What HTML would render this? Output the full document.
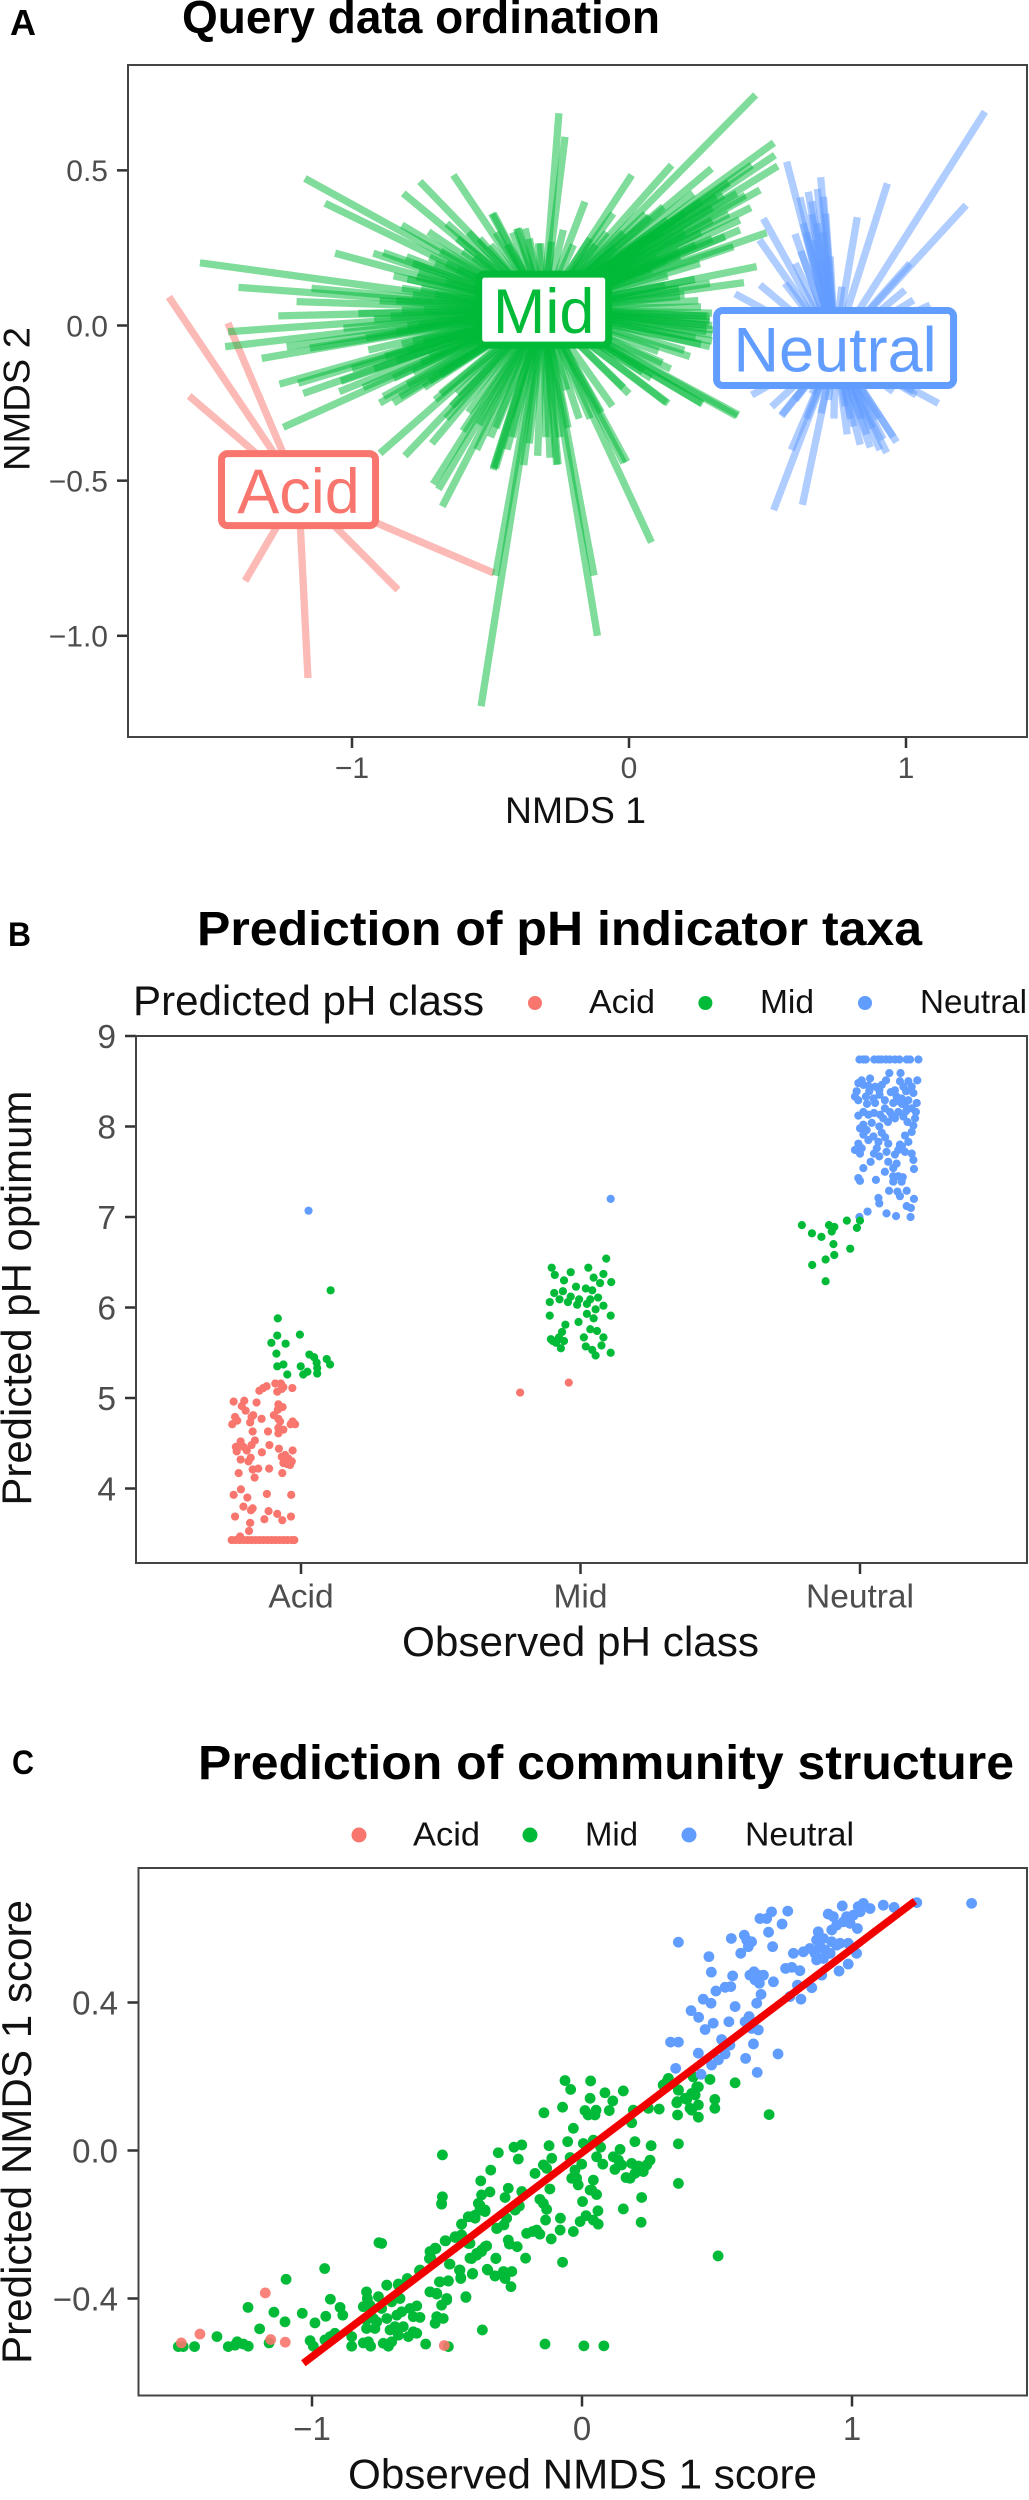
<!DOCTYPE html>
<html lang="en">
<head>
<meta charset="utf-8">
<title>pH class prediction figure</title>
<style>
html,body{margin:0;padding:0;background:#fff;}
svg{display:block;font-family:"Liberation Sans",Arial,sans-serif;}
.title{font-weight:700;fill:#000;}
.letter{font-weight:700;fill:#000;font-size:34px;}
.axis-title{fill:#111;font-size:42px;}
.legend-text{fill:#111;font-size:33.5px;}
</style>
</head>
<body>
<svg id="figure" xmlns="http://www.w3.org/2000/svg" width="1029" height="2500" viewBox="0 0 1029 2500">
  <rect x="0" y="0" width="1029" height="2500" fill="#fff"/>

  <text class="letter" x="10" y="35" style="font-size:36px" textLength="26" lengthAdjust="spacingAndGlyphs">A</text>
  <text class="title" x="182" y="33" font-size="46" textLength="478" lengthAdjust="spacingAndGlyphs">Query data ordination</text>
  <g id="panelA"></g>
  <rect x="128" y="65" width="899" height="672" fill="none" stroke="#444" stroke-width="2"/>
  <text class="axis-title" x="505" y="823" font-size="36" style="font-size:37px" textLength="141" lengthAdjust="spacingAndGlyphs">NMDS 1</text>
  <text class="axis-title" transform="translate(29.5,471) rotate(-90)" x="0" y="0" style="font-size:37px" textLength="144" lengthAdjust="spacingAndGlyphs">NMDS 2</text>

  <text class="letter" x="8" y="946" textLength="23" lengthAdjust="spacingAndGlyphs">B</text>
  <text class="title" x="197" y="945" font-size="48" textLength="725" lengthAdjust="spacingAndGlyphs">Prediction of pH indicator taxa</text>
  <text class="axis-title" x="133" y="1015" textLength="351" lengthAdjust="spacingAndGlyphs">Predicted pH class</text>
  <g>
    <circle cx="535" cy="1003" r="7" fill="#F8766D"/>
    <text class="legend-text" x="589" y="1013" textLength="66" lengthAdjust="spacingAndGlyphs">Acid</text>
    <circle cx="705.4" cy="1003" r="7" fill="#00BA38"/>
    <text class="legend-text" x="760" y="1013" textLength="54" lengthAdjust="spacingAndGlyphs">Mid</text>
    <circle cx="865" cy="1003" r="7" fill="#619CFF"/>
    <text class="legend-text" x="920" y="1013" textLength="107" lengthAdjust="spacingAndGlyphs">Neutral</text>
  </g>
  <g id="panelB"></g>
  <rect x="136" y="1036" width="891" height="527" fill="none" stroke="#444" stroke-width="2"/>
  <text class="axis-title" x="402" y="1656" textLength="357" lengthAdjust="spacingAndGlyphs">Observed pH class</text>
  <text class="axis-title" transform="translate(31,1505.6) rotate(-90)" x="0" y="0" textLength="415" lengthAdjust="spacingAndGlyphs">Predicted pH optimum</text>

  <text class="letter" x="12" y="1774" textLength="22" lengthAdjust="spacingAndGlyphs">C</text>
  <text class="title" x="198" y="1779" font-size="48" textLength="816" lengthAdjust="spacingAndGlyphs">Prediction of community structure</text>
  <g>
    <circle cx="359" cy="1835" r="7.5" fill="#F8766D"/>
    <text class="legend-text" x="413" y="1845.4" textLength="67" lengthAdjust="spacingAndGlyphs">Acid</text>
    <circle cx="530" cy="1835" r="7.5" fill="#00BA38"/>
    <text class="legend-text" x="585" y="1845.4" textLength="53" lengthAdjust="spacingAndGlyphs">Mid</text>
    <circle cx="689" cy="1835" r="7.5" fill="#619CFF"/>
    <text class="legend-text" x="745" y="1845.4" textLength="109" lengthAdjust="spacingAndGlyphs">Neutral</text>
  </g>
  <g id="panelC"></g>
  <rect x="138.5" y="1868" width="888.5" height="527.5" fill="none" stroke="#444" stroke-width="2"/>
  <text class="axis-title" x="348" y="2488.7" textLength="469" lengthAdjust="spacingAndGlyphs">Observed NMDS 1 score</text>
  <text class="axis-title" transform="translate(31,2364) rotate(-90)" x="0" y="0" textLength="464" lengthAdjust="spacingAndGlyphs">Predicted NMDS 1 score</text>
</svg>

<script>
/* ---------- Panel A data (NMDS coordinates) ---------- */
const ordXTicks = [-1, 0, 1];
const ordXTickLabels = ['\u22121', '0', '1'];
const ordYTicks = [0.5, 0, -0.5, -1];
const ordYTickLabels = ['0.5', '0.0', '\u22120.5', '\u22121.0'];
const ordAcidCentre = [-1.193, -0.529];
const ordMidCentre = [-0.308, 0.051];
const ordNeutralCentre = [0.744, -0.0725];
const ordAcidEnds = [[-1.661,0.092],[-1.448,0.008],[-1.588,-0.227],[-1.386,-0.823],[-1.159,-1.136],[-0.834,-0.852],[-0.487,-0.798]];
const ordMidEnds = [[-1.170,0.474],[-1.097,0.394],[-1.549,0.202],[-1.061,0.233],[-1.410,0.123],[-0.923,0.233],[-0.887,0.235],[-0.803,0.222],[-1.200,0.077],[-1.266,0.031],[-1.447,-0.020],[-1.458,-0.068],[-1.326,-0.106],[-1.236,-0.068],[-1.262,-0.189],[-1.194,-0.186],[-1.176,-0.219],[-1.248,-0.328],[-1.046,-0.213],[-0.887,-0.229],[-0.827,-0.229],[-0.941,-0.079],[-0.815,0.426],[-0.755,0.464],[-0.634,0.485],[-0.496,0.361],[-0.820,0.324],[-0.724,0.302],[-0.658,0.329],[-1.146,0.120],[-1.031,-0.009],[-0.977,0.039],[-1.152,-0.073],[-0.406,0.313],[-0.375,0.313],[-0.327,0.265],[-0.767,0.157],[-0.899,-0.412],[-0.809,-0.420],[-0.712,-0.380],[-0.490,-0.465],
[-0.707,-0.511],[-0.688,-0.528],[-0.674,-0.583],[-0.482,-0.460],[-0.534,-1.227],[-0.482,-0.806],[-0.256,-0.448],[-0.285,-0.426],[-0.126,-0.806],[-0.114,-1.000],[-0.019,-0.443],[0.081,-0.699],[0.135,-0.249],[0.266,-0.253],[0.389,-0.292],
[-0.253,0.684],[-0.231,0.608],[-0.159,0.399],[0.010,0.485],[0.457,0.743],[0.154,0.517],[0.298,0.506],[0.523,0.589],[0.527,0.549],[0.537,0.514],[0.473,0.437],[0.443,0.517],[0.401,0.308],[0.497,0.299],[0.461,0.190],[0.415,0.138],[0.256,0.200],[0.238,0.149],[0.184,0.093],[0.076,0.351],[0.124,0.383],[0.232,0.426],[0.316,0.415],[0.389,0.426],[-0.237,0.308],[-0.400,0.313],[-0.319,0.265],[-0.490,0.361],[-0.057,0.361],[0.292,0.018],[0.304,-0.014],[0.292,-0.068],[0.106,-0.084],[0.142,-0.251],[0.262,-0.251],[0.395,-0.288],[-0.008,-0.439],[-0.225,-0.208],[-0.261,-0.449],[-0.490,-0.460],[0.377,0.254],[0.347,0.286],[0.184,0.222],[0.292,0.136],[0.136,0.211],
[-0.80,0.15],[-0.78,0.10],[-0.82,0.05],[-0.80,0.0],[-0.78,-0.05],[-0.80,-0.08],[-0.75,-0.12],[-0.72,-0.18],[-0.70,0.20],[-0.68,0.24],[-0.62,0.28],[-0.58,0.30],[-0.75,0.12],[-0.90,0.08],[-0.92,0.02],[-0.95,-0.04],[-0.88,-0.10],[-0.92,-0.14],[-0.85,-0.17],[-0.80,-0.19],[-0.70,-0.24],[-0.66,-0.30],[-0.60,-0.34],[-0.55,-0.40],[-0.50,-0.36],[-0.44,-0.40],[-0.38,-0.45],[-0.33,-0.42],[-0.25,-0.36],[-0.18,-0.30],[-0.10,-0.28],[-0.02,-0.20],[0.05,-0.15],[0.12,-0.12],[0.20,-0.08],[0.24,-0.04],[0.28,0.0],[0.30,0.04],[0.25,0.08],[0.18,0.12],[0.14,0.16],[0.10,0.22],[0.04,0.26],[-0.02,0.30],[-0.08,0.30],[-0.14,0.28],[-0.44,0.26],[-0.50,0.26],[0.06,0.36],[0.14,0.34],[0.20,0.30],[0.26,0.30],[0.30,0.28],[0.36,0.36],[0.42,0.42],[0.36,0.46],[0.30,0.38],[-0.78,0.20],[-0.85,0.16],[-1.0,-0.14],[-1.04,-0.18],[-0.96,-0.20],[-0.90,-0.25],[-0.85,-0.25],[0.29,0.03],[0.30,0.0],[0.30,-0.03],[0.30,-0.05],[0.29,0.01],
[-0.82,0.12],[-0.84,0.08],[-0.86,0.03],[-0.84,-0.02],[-0.82,-0.06],[-0.84,-0.11],[-0.78,-0.15],[-0.74,-0.20],[-0.68,-0.22],[-0.64,-0.26],[-0.76,0.17],[-0.72,0.22],[-0.66,0.20],[-0.60,0.24],[-0.54,0.28],[-0.48,0.30],[-0.42,0.30],[-0.36,0.28],[-0.28,0.27],[-0.20,0.26],[-0.12,0.26],[-0.05,0.25],[0.02,0.22],[0.08,0.18],[0.13,0.13],[0.20,0.10],[0.26,0.06],[0.28,0.03],[0.28,-0.02],[0.26,-0.06],[0.22,-0.10],[0.15,-0.14],[0.08,-0.17],[0.0,-0.22],[-0.06,-0.26],[-0.14,-0.30],[-0.22,-0.33],[-0.30,-0.36],[-0.36,-0.38],[-0.42,-0.36],[-0.48,-0.33],[-0.54,-0.32],[-0.58,-0.28],[-0.62,-0.22],[-0.68,-0.16],[-0.72,-0.10],[-0.74,-0.05],[-0.76,0.0],[-0.74,0.05],[-0.70,0.10],[-0.66,0.14],[-0.62,0.18],[-0.56,0.22],[0.20,0.36],[0.26,0.40],[0.34,0.42],[0.30,0.34],[0.24,0.26],[0.18,0.24],[0.40,0.34],[0.44,0.38],[0.12,0.30],[0.06,0.28]];
const ordNeutralEnds = [[0.569,0.528],[0.617,0.413],[0.647,0.431],[0.692,0.478],[0.659,0.359],[0.485,0.345],[0.471,0.276],[0.599,0.295],[0.824,0.349],[0.933,0.458],[1.285,0.689],[1.217,0.388],[0.563,0.136],[0.768,0.125],[0.473,0.131],[0.383,0.102],[0.996,0.114],[1.027,0.082],[1.087,0.066],[1.014,0.200],[0.629,0.329],[0.678,0.329],[0.702,0.415],[0.665,0.275],[0.726,0.222],
[0.443,-0.224],[0.515,-0.262],[0.551,-0.288],[1.117,-0.251],[1.027,-0.213],[0.954,-0.213],[0.522,-0.595],[0.626,-0.578],[0.586,-0.401],[0.641,-0.300],[0.550,-0.292],[0.966,-0.376],[0.930,-0.410],[0.871,-0.393],[0.906,-0.401],[0.788,-0.351],[0.835,-0.384],[0.954,-0.359],[1.037,-0.224],[0.811,-0.325],[0.859,-0.351],[0.918,-0.367],[0.740,-0.300],[0.693,-0.283],
[0.80,-0.30],[0.84,-0.30],[0.88,-0.33],[0.78,-0.26],[0.72,-0.24],[0.66,-0.22],[0.60,-0.24],[0.90,-0.30],[0.70,0.30],[0.71,0.36],[0.66,0.40],[0.68,0.44],[0.64,0.30],[0.62,0.24],[0.60,0.20]];

/* ---------- Panel B data: [jitter around observed class, predicted pH] ---------- */
const phCategories = ['Acid', 'Mid', 'Neutral'];
const phYTicks = [9, 8, 7, 6, 5, 4];
const phAcidObsAcid = [[-0.248,3.43],[-0.234,3.43],[-0.219,3.43],[-0.205,3.43],[-0.191,3.43],[-0.177,3.43],[-0.162,3.43],[-0.148,3.43],[-0.134,3.43],[-0.119,3.43],[-0.105,3.43],[-0.091,3.43],[-0.076,3.43],[-0.062,3.43],[-0.048,3.43],[-0.033,3.43],[-0.024,3.43],
[-0.218,3.47],[-0.186,3.53],[-0.182,3.62],[-0.236,3.69],[-0.131,3.66],[-0.116,3.75],[-0.085,3.72],[-0.067,3.65],[-0.036,3.69],[-0.206,3.80],[-0.173,3.78],[-0.179,3.76],[-0.241,3.93],[-0.215,3.99],[-0.192,3.90],[-0.122,3.94],[-0.035,3.93],[-0.223,4.17],[-0.166,4.12],[-0.173,4.21],[-0.153,4.22],[-0.114,4.22],[-0.067,4.17],
[-0.216,4.32],[-0.188,4.30],[-0.180,4.34],[-0.140,4.40],[-0.230,4.41],[-0.233,4.46],[-0.216,4.52],[-0.206,4.46],[-0.194,4.42],[-0.177,4.48],[-0.165,4.53],[-0.113,4.48],[-0.079,4.44],[-0.030,4.42],[-0.069,4.35],[-0.057,4.37],[-0.045,4.33],[-0.033,4.30],[-0.063,4.28],[-0.049,4.27],[-0.039,4.26],
[-0.173,4.63],[-0.118,4.63],[-0.081,4.61],[-0.081,4.67],[-0.063,4.65],[-0.246,4.71],[-0.236,4.79],[-0.228,4.75],[-0.182,4.73],[-0.177,4.79],[-0.171,4.81],[-0.141,4.77],[-0.097,4.81],[-0.081,4.77],[-0.075,4.74],[-0.030,4.74],[-0.021,4.71],[-0.037,4.71],
[-0.241,4.96],[-0.203,4.97],[-0.212,4.91],[-0.198,4.86],[-0.159,4.95],[-0.081,4.93],[-0.066,4.90],[-0.083,4.87],[-0.149,5.08],[-0.135,5.11],[-0.123,5.13],[-0.092,5.16],[-0.072,5.16],[-0.063,5.12],[-0.085,5.07],[-0.069,5.10],[-0.031,5.11]];
const phMidObsAcid = [[-0.083,5.88],[-0.085,5.69],[-0.106,5.61],[-0.055,5.60],[-0.004,5.70],[-0.088,5.49],[-0.085,5.35],[-0.063,5.37],[-0.049,5.26],[-0.001,5.35],[0.030,5.48],[0.047,5.45],[0.056,5.39],[0.058,5.33],[0.058,5.27],[0.023,5.29],[0.008,5.26],[0.092,5.43],[0.104,5.37],[0.106,6.19]];
const phNeutralObsAcid = [[0.027,7.07]];
const phAcidObsMid = [[-0.216,5.06],[-0.042,5.17]];
const phMidObsMid = [[0.092,6.54],[-0.103,6.44],[-0.035,6.39],[0.028,6.44],[-0.092,6.36],[0.082,6.37],[-0.059,6.30],[0.047,6.33],[0.110,6.28],[0.070,6.27],[-0.016,6.23],[0.019,6.21],[0.042,6.19],[-0.094,6.16],[-0.063,6.18],[-0.035,6.12],[-0.005,6.09],[0.035,6.09],[0.063,6.11],[-0.110,6.06],[-0.075,6.09],[-0.045,6.06],[-0.012,6.03],[0.023,6.04],[0.082,6.02],[0.054,5.98],[-0.110,5.91],[0.023,5.93],[0.108,5.91],[0.047,5.88],[-0.007,5.84],[-0.054,5.81],[0.035,5.76],[0.059,5.74],[-0.066,5.73],[-0.077,5.67],[-0.099,5.63],[-0.059,5.63],[0.082,5.67],[0.012,5.67],[-0.070,5.55],[0.019,5.57],[0.042,5.53],[0.075,5.58],[0.054,5.47],[0.108,5.50],[-0.087,5.61],[-0.106,5.65]];
const phNeutralObsMid = [[0.108,7.20]];
const phMidObsNeutral = [[-0.208,6.91],[-0.172,6.82],[-0.138,6.78],[-0.111,6.91],[-0.092,6.89],[-0.101,6.84],[-0.047,6.96],[0,6.96],[-0.011,6.88],[-0.095,6.70],[-0.035,6.65],[-0.092,6.58],[-0.123,6.53],[-0.171,6.47],[-0.123,6.29]];
const phNeutralObsNeutral = [[-0.002,8.74],[0.012,8.74],[0.021,8.74],[0.051,8.74],[0.066,8.74],[0.077,8.74],[0.093,8.74],[0.107,8.74],[0.125,8.74],[0.141,8.74],[0.167,8.74],[0.179,8.74],[0.209,8.74],
[0.105,8.59],[0.145,8.59],[0.036,8.53],[0.006,8.51],[-0.006,8.48],[0.093,8.51],[0.078,8.46],[0.143,8.50],[0.173,8.50],[0.205,8.51],[0.012,8.46],[0.054,8.44],[0.155,8.44],[0.185,8.44],[-0.012,8.39],[0.033,8.39],[0.069,8.40],[0.125,8.40],[0.165,8.39],[0.191,8.37],[-0.018,8.33],[0.021,8.33],[0.048,8.31],[0.089,8.29],[0.131,8.33],[0.149,8.31],[0.173,8.29],[0.203,8.26],[0.054,8.26],[-0.006,8.29],[0.119,8.26],[0.161,8.24],[0.185,8.20],[0.089,8.20],[0.072,8.13],[0.107,8.16],[0.137,8.16],[0.012,8.16],[-0.006,8.12],[0.030,8.13],[0.200,8.16],[0.125,8.09],[0.155,8.11],[0.197,8.09],[0.083,8.09],[0.012,8.02],[0,7.98],[0.042,8.04],[0.069,8.00],[0.191,8.01],[0.078,7.93],[0.024,7.96],[0.012,7.91],[0.048,7.89],[0.185,7.94],[0.161,7.90],[-0.006,7.81],[0.066,7.83],[0.101,7.81],[0.143,7.80],[0.173,7.83],[-0.018,7.74],[0.006,7.76],[0.060,7.76],[0.095,7.72],[0.137,7.74],[0.161,7.72],[0.185,7.70],[0,7.70],[0.069,7.67],[0.125,7.69],[0.191,7.63],[0.101,7.61],[0.131,7.59],[0.038,7.61],[0.012,7.54],[0.119,7.54],[0.193,7.53],[0.089,7.50],[-0.006,7.43],[0,7.40],[0.057,7.41],[0.119,7.45],[0.137,7.45],[0.153,7.44],[0.119,7.39],[0.149,7.39],[0.104,7.29],[0.134,7.28],[0.167,7.29],[0.143,7.23],[0.066,7.21],[0.069,7.15],[0.193,7.20],[0.167,7.12],[0.182,7.10],[0.027,7.06],[0.095,7.04],[0.129,7.01],[0.181,7.00],[-0.002,7.00],
[0.03,8.45],[0.11,8.38],[0.15,8.25],[0.10,8.05],[0.05,8.15],[0.17,8.05],[0.03,7.85],[0.09,7.88],[0.15,7.78],[0.05,7.70],[0.115,8.12],[0.13,8.28],[0.07,8.35],[0.025,8.25],[0.165,8.17]];

/* ---------- Panel C data: [observed, predicted] ---------- */
const commXTicks = [-1, 0, 1];
const commXTickLabels = ['\u22121', '0', '1'];
const commYTicks = [0.4, 0, -0.4];
const commYTickLabels = ['0.4', '0.0', '\u22120.4'];
const commFitStart = [-1.032, -0.575];
const commFitEnd = [1.233, 0.674];
const commMidLow = [[-1.495,-0.530],[-1.477,-0.530],[-1.435,-0.530],[-1.352,-0.503],[-1.310,-0.530],[-1.285,-0.526],[-1.277,-0.517],[-1.254,-0.523],[-1.236,-0.529],[-1.237,-0.424],[-1.194,-0.482],[-1.159,-0.520],[-1.141,-0.437],[-1.100,-0.463],[-1.096,-0.348],[-1.036,-0.440],[-1.007,-0.514],[-0.995,-0.529],[-0.989,-0.466],[-0.949,-0.448],[-0.953,-0.319],[-0.932,-0.402],[-0.896,-0.424],[-0.886,-0.445],[-0.952,-0.512],[-0.933,-0.503],[-0.915,-0.494],[-0.853,-0.503],[-0.853,-0.529],[-0.810,-0.520],[-0.791,-0.517],[-0.783,-0.529],[-0.736,-0.521],[-0.717,-0.529],[-0.705,-0.517],[-0.798,-0.382],[-0.795,-0.400],[-0.810,-0.422],[-0.754,-0.395],[-0.723,-0.364],[-0.680,-0.361],[-0.647,-0.348],[-0.602,-0.325],[-0.674,-0.400],[-0.705,-0.409],[-0.785,-0.418],[-0.742,-0.427],[-0.798,-0.458],[-0.773,-0.454],[-0.723,-0.454],[-0.686,-0.445],[-0.668,-0.436],[-0.637,-0.427],[-0.612,-0.420],[-0.625,-0.449],[-0.600,-0.451],[-0.798,-0.481],[-0.767,-0.481],[-0.760,-0.463],[-0.693,-0.476],[-0.662,-0.476],[-0.711,-0.485],[-0.680,-0.499],[-0.643,-0.503],[-0.612,-0.494],[-0.625,-0.490],[-0.579,-0.523],[-0.563,-0.382],[-0.538,-0.386],[-0.520,-0.418],[-0.501,-0.404],[-0.538,-0.449],[-0.514,-0.454],[-0.544,-0.467],[-0.528,-0.355],[-0.495,-0.353],[-0.452,-0.323],[-0.449,-0.346],[-0.430,-0.397],[-0.406,-0.334],[-0.369,-0.485],[-0.489,-0.307],[-0.565,-0.292],[-0.560,-0.274],[-0.541,-0.265],[-0.507,-0.244],[-0.470,-0.235],[-0.452,-0.231],[-0.446,-0.199],[-0.415,-0.251],[-0.409,-0.292],[-0.390,-0.283],[-0.372,-0.269],[-0.353,-0.258],[-0.349,-0.323],[-0.322,-0.339],[-0.319,-0.292],[-0.316,-0.211],[-0.421,-0.179],[-0.396,-0.175],[-0.378,-0.148],[-0.359,-0.161],[-0.520,-0.145],[-0.752,-0.249],[-0.495,-0.530],[-0.137,-0.523],[0.007,-0.528],[0.081,-0.528],[0.504,-0.285]];
const commMidCentre = [[-0.742,-0.251],[-0.723,-0.364],[-0.680,-0.364],[-0.647,-0.346],[-0.600,-0.323],[-0.563,-0.273],[-0.544,-0.264],[-0.560,-0.291],[-0.505,-0.244],[-0.470,-0.233],[-0.446,-0.228],[-0.421,-0.251],[-0.415,-0.291],[-0.390,-0.278],[-0.359,-0.260],[-0.372,-0.273],[-0.491,-0.307],[-0.454,-0.323],[-0.449,-0.343],[-0.405,-0.332],[-0.526,-0.355],[-0.495,-0.352],[-0.563,-0.382],[-0.538,-0.388],[-0.501,-0.400],[-0.430,-0.395],[-0.351,-0.321],[-0.319,-0.291],[-0.322,-0.339],[-0.291,-0.327],[-0.260,-0.327],[-0.285,-0.346],[-0.263,-0.368],[-0.209,-0.291],[-0.273,-0.242],[-0.269,-0.253],[-0.240,-0.260],[-0.314,-0.210],[-0.289,-0.201],[-0.279,-0.183],[-0.446,-0.199],[-0.415,-0.179],[-0.396,-0.183],[-0.378,-0.161],[-0.359,-0.165],[-0.384,-0.143],[-0.372,-0.120],[-0.341,-0.112],[-0.375,-0.082],[-0.338,-0.053],[-0.310,-0.006],[-0.517,-0.012],[-0.517,-0.125],[-0.520,-0.143],[-0.273,-0.102],[-0.285,-0.127],[-0.223,-0.111],[-0.248,-0.161],[-0.232,-0.150],[-0.236,-0.023],[-0.252,0.009],[-0.223,0.015],[-0.174,-0.062],[-0.143,-0.039],[-0.112,-0.021],[-0.131,-0.048],[-0.122,0.013],[-0.119,-0.104],[-0.156,-0.132],[-0.143,-0.143],[-0.131,-0.159],[-0.135,-0.188],[-0.183,-0.219],[-0.168,-0.215],[-0.156,-0.226],[-0.205,-0.224],[-0.114,-0.239],[-0.081,-0.215],[-0.080,-0.183],[-0.072,-0.302],[-0.032,-0.219],[-0.007,-0.192],[0.015,-0.176],[0.042,-0.188],[0.059,-0.163],[0.060,-0.199],[0.002,-0.138],[0.036,-0.107],[0.054,-0.119],[0.042,-0.080],[0.030,-0.107],[-0.038,-0.075],[-0.014,-0.093],[-0.020,-0.075],[-0.026,-0.053],[-0.001,-0.037],[-0.044,-0.019],[-0.053,0.024],[0.005,0.019],[0.042,0.028],[0.069,0.009],[0.054,-0.017],[0.077,-0.037],[-0.032,0.060],[-0.141,0.102],[-0.072,0.117],[-0.063,0.189],[-0.042,0.165],[0.032,0.188],[0.030,0.141],[0.085,0.156],[0.114,0.134],[0.011,0.108],[0.023,0.096],[0.052,0.109],[0.048,0.096],[0.101,0.108],[0.153,0.161],[0.184,0.075],[0.196,0.024],[0.256,0.013],[0.252,-0.026],[0.240,-0.039],[0.227,-0.057],[0.209,-0.042],[0.184,-0.035],[0.196,-0.062],[0.178,-0.075],[0.163,-0.073],[0.141,0.003],[0.116,-0.017],[0.135,-0.026],[0.122,-0.051],[0.147,-0.039],[0.221,-0.127],[0.153,-0.158],[0.219,-0.194]];
const commMidHigh = [[0.190,0.109],[0.246,0.114],[0.286,0.112],[0.357,0.018],[0.357,-0.089],[0.351,0.129],[0.354,0.096],[0.406,0.109],[0.431,0.090],[0.388,0.138],[0.419,0.150],[0.425,0.172],[0.357,0.164],[0.314,0.186],[0.301,0.177],[0.567,0.183],[0.492,0.138],[0.431,0.172],[0.406,0.154],[0.382,0.141],[0.353,0.132],[0.474,0.192],[0.412,0.199],[0.320,0.195],[0.301,0.177],[0.357,0.163],[0.431,0.123],[0.492,0.114],[0.400,0.114],[0.693,0.097]];
const commNeutral = [[0.357,0.563],[0.470,0.524],[0.479,0.482],[0.558,0.472],[0.553,0.573],[0.601,0.582],[0.610,0.569],[0.628,0.564],[0.616,0.551],[0.588,0.533],[0.691,0.590],[0.706,0.551],[0.659,0.627],[0.684,0.627],[0.702,0.645],[0.762,0.647],[0.741,0.612],[0.622,0.474],[0.637,0.483],[0.653,0.474],[0.672,0.474],[0.641,0.461],[0.657,0.452],[0.709,0.456],[0.496,0.431],[0.530,0.441],[0.551,0.443],[0.449,0.409],[0.478,0.398],[0.663,0.422],[0.647,0.398],[0.567,0.389],[0.404,0.378],[0.432,0.360],[0.456,0.327],[0.486,0.344],[0.544,0.348],[0.619,0.362],[0.604,0.348],[0.628,0.330],[0.653,0.326],[0.635,0.288],[0.606,0.249],[0.726,0.261],[0.649,0.211],[0.328,0.293],[0.357,0.293],[0.517,0.300],[0.548,0.285],[0.431,0.263],[0.530,0.261],[0.505,0.245],[0.480,0.231],[0.347,0.222],[0.441,0.206],[0.783,0.533],[0.754,0.492],[0.777,0.495],[0.807,0.486],[0.798,0.447],[0.851,0.440],[0.811,0.409],[0.770,0.416],[0.888,0.474],[0.952,0.485],[0.986,0.504],[1.017,0.533],[0.986,0.560],[0.820,0.537],[0.844,0.546],[0.863,0.533],[0.881,0.551],[0.900,0.542],[0.869,0.515],[0.894,0.519],[0.919,0.533],[0.943,0.555],[0.869,0.569],[0.875,0.591],[0.894,0.573],[0.925,0.564],[0.956,0.560],[0.925,0.596],[0.943,0.609],[0.968,0.618],[0.993,0.614],[1.020,0.600],[0.980,0.632],[1.005,0.636],[1.030,0.645],[1.042,0.668],[1.067,0.654],[1.023,0.659],[0.912,0.639],[0.931,0.632],[0.964,0.661],[1.116,0.663],[1.156,0.657],[1.240,0.670],[1.443,0.668]];
const commAcid = [[-1.484,-0.520],[-1.415,-0.496],[-1.173,-0.385],[-1.153,-0.511],[-1.099,-0.518],[-0.510,-0.527]];

/* ---------- Axis functions ---------- */
const SVG_NS = 'http://www.w3.org/2000/svg';
const ACID_COLOR = '#F8766D';
const MID_COLOR = '#00BA38';
const NEUTRAL_COLOR = '#619CFF';
const TICK_COLOR = '#4D4D4D';
function ordX(v) { return 629 + 277 * v; }
function ordY(v) { return 325.5 - 310.3 * v; }
function phX(c) { return 301 + 279.5 * c; }
function phY(v) { return 1036 + (9 - v) * 90.5; }
function commX(v) { return 582 + 270 * v; }
function commY(v) { return 2150.5 - 370 * v; }

function make(tag, parent, attrs) {
  const el = document.createElementNS(SVG_NS, tag);
  for (const k in attrs) { el.setAttribute(k, attrs[k]); }
  parent.appendChild(el);
  return el;
}

function drawXTicks(parent, values, labels, xFn, yBase, yText, size, fill) {
  values.forEach(function (v, i) {
    const tick = make('line', parent, { x1: xFn(v), x2: xFn(v), y1: yBase, y2: yBase + 11, stroke: '#333', 'stroke-width': 2.5 });
    
    
    const label = make('text', parent, { x: xFn(v), y: yText, 'text-anchor': 'middle', 'font-size': size, fill: fill });
    
    
    label.textContent = labels[i];
  });
}

function drawYTicks(parent, values, labels, yFn, xBase, xText, size, fill) {
  values.forEach(function (v, i) {
    const y = yFn(v);
    const tick = make('line', parent, { x1: xBase - 11, x2: xBase, y1: y, y2: y, stroke: '#333', 'stroke-width': 2.5 });
    
    
    const label = make('text', parent, { x: xText, y: y + size * 0.36, 'text-anchor': 'end', 'font-size': size, fill: fill });
    
    
    label.textContent = labels[i];
  });
}

function drawSpokes(parent, centre, ends, color, name) {
  ends.forEach(function (end) {
    const seg = make('line', parent, {
      x1: ordX(centre[0]), y1: ordY(centre[1]), x2: ordX(end[0]), y2: ordY(end[1]),
      stroke: color, 'stroke-width': 7.3, 'stroke-opacity': 0.5
    });
    
    
  });
}

function drawClassLabel(parent, centre, text, color, boxW, boxH) {
  const cx = ordX(centre[0]);
  const cy = ordY(centre[1]);
  const box = make('rect', parent, {
    x: cx - boxW / 2, y: cy - boxH / 2, width: boxW, height: boxH, rx: 6, ry: 6,
    fill: '#fff', stroke: color, 'stroke-width': 7
  });
  
  
  const label = make('text', parent, { x: cx, y: cy + 23.5, 'text-anchor': 'middle', 'font-size': 63, fill: color });
  
  
  label.textContent = text;
}

function drawPhPoints(parent, catIndex, pts, color, name) {
  pts.forEach(function (p) {
    const dot = make('circle', parent, { cx: phX(catIndex + p[0]), cy: phY(p[1]), r: 4.1, fill: color });
    
    
  });
}

function drawCommPoints(parent, pts, color, name, opacity) {
  pts.forEach(function (p) {
    const dot = make('circle', parent, { cx: commX(p[0]), cy: commY(p[1]), r: 5.4, fill: color, 'fill-opacity': opacity });
    
    
  });
}

/* ---------- Panel A ---------- */
const gA = document.getElementById('panelA');
drawSpokes(gA, ordAcidCentre, ordAcidEnds, ACID_COLOR, 'acid-segment');
drawSpokes(gA, ordNeutralCentre, ordNeutralEnds, NEUTRAL_COLOR, 'neutral-segment');
drawSpokes(gA, ordMidCentre, ordMidEnds, MID_COLOR, 'mid-segment');
drawClassLabel(gA, ordAcidCentre, 'Acid', ACID_COLOR, 154, 72);
drawClassLabel(gA, ordMidCentre, 'Mid', MID_COLOR, 130, 71);
drawClassLabel(gA, ordNeutralCentre, 'Neutral', NEUTRAL_COLOR, 237, 75);
drawXTicks(gA, ordXTicks, ordXTickLabels, ordX, 737, 778, 30, TICK_COLOR);
drawYTicks(gA, ordYTicks, ordYTickLabels, ordY, 128, 108, 30, TICK_COLOR);

/* ---------- Panel B ---------- */
const gB = document.getElementById('panelB');
drawPhPoints(gB, 0, phAcidObsAcid, ACID_COLOR, 'point-acid');
drawPhPoints(gB, 0, phMidObsAcid, MID_COLOR, 'point-mid');
drawPhPoints(gB, 0, phNeutralObsAcid, NEUTRAL_COLOR, 'point-neutral');
drawPhPoints(gB, 1, phAcidObsMid, ACID_COLOR, 'point-acid');
drawPhPoints(gB, 1, phMidObsMid, MID_COLOR, 'point-mid');
drawPhPoints(gB, 1, phNeutralObsMid, NEUTRAL_COLOR, 'point-neutral');
drawPhPoints(gB, 2, phNeutralObsNeutral, NEUTRAL_COLOR, 'point-neutral');
drawPhPoints(gB, 2, phMidObsNeutral, MID_COLOR, 'point-mid');
drawXTicks(gB, [0, 1, 2], phCategories, phX, 1563, 1607.5, 33.5, TICK_COLOR);
drawYTicks(gB, phYTicks, phYTicks.map(String), phY, 136, 116, 33.5, TICK_COLOR);

/* ---------- Panel C ---------- */
const gC = document.getElementById('panelC');
drawCommPoints(gC, commMidLow, MID_COLOR, 'point-mid', 1);
drawCommPoints(gC, commMidCentre, MID_COLOR, 'point-mid', 1);
drawCommPoints(gC, commMidHigh, MID_COLOR, 'point-mid', 1);
drawCommPoints(gC, commNeutral, NEUTRAL_COLOR, 'point-neutral', 1);
drawCommPoints(gC, commAcid, ACID_COLOR, 'point-acid', 0.9);
const fitLine = make('line', gC, {
  x1: commX(commFitStart[0]), y1: commY(commFitStart[1]),
  x2: commX(commFitEnd[0]), y2: commY(commFitEnd[1]),
  stroke: '#F20000', 'stroke-width': 7.5
});


drawXTicks(gC, commXTicks, commXTickLabels, commX, 2395.5, 2440, 33, TICK_COLOR);
drawYTicks(gC, commYTicks, commYTickLabels, commY, 138.5, 118, 33, TICK_COLOR);
</script>
</body>
</html>
